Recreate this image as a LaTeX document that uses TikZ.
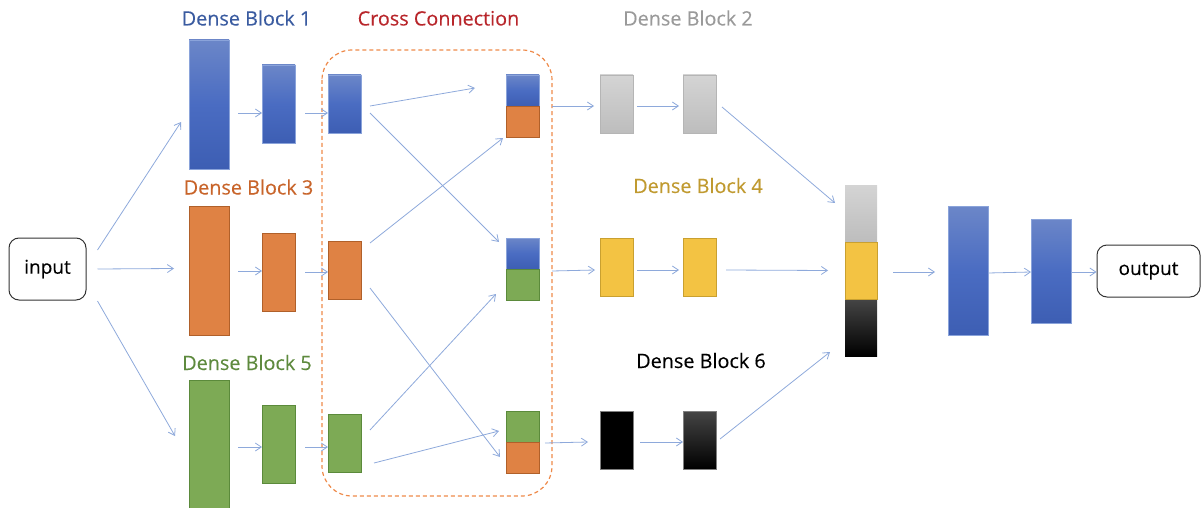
\documentclass[tikz,border=0pt]{standalone}
\usepackage{fontspec}
\setmainfont{Open Sans}
\newfontfamily\tfont{Open Sans}[FakeBold=0.25]
\usetikzlibrary{arrows.meta,calc}
\definecolor{bluetop}{HTML}{6B86C8}
\definecolor{bluemid}{HTML}{4A6CC2}
\definecolor{bluebot}{HTML}{3D5EB3}
\definecolor{blueedge}{HTML}{8AA3DA}
\definecolor{orangef}{HTML}{DF8244}
\definecolor{orangee}{HTML}{B0602A}
\definecolor{greenf}{HTML}{7DAA55}
\definecolor{greene}{HTML}{5B8A3B}
\definecolor{graytop}{HTML}{D4D4D4}
\definecolor{graybot}{HTML}{BDBDBD}
\definecolor{graye}{HTML}{B5B5B5}
\definecolor{yellowf}{HTML}{F3C343}
\definecolor{yellowe}{HTML}{C9A030}
\definecolor{blacktop}{HTML}{454545}
\definecolor{blacke}{HTML}{808080}
\definecolor{arrowc}{HTML}{8EA9DB}
\definecolor{dashc}{HTML}{EE8A4A}
\definecolor{tblue}{HTML}{3A5BA0}
\definecolor{tred}{HTML}{B8262B}
\definecolor{tgray}{HTML}{9A9A9A}
\definecolor{torange}{HTML}{C8642A}
\definecolor{tgold}{HTML}{C09A30}
\definecolor{tgreen}{HTML}{5E8A3E}
\begin{document}
\begin{tikzpicture}[x=1pt,y=-1pt,
  bar/.style={rectangle, inner sep=0pt, outer sep=0pt, line width=0.7pt},
  bluebar/.style={bar, draw=blueedge, top color=bluetop, bottom color=bluebot, middle color=bluemid},
  orangebar/.style={bar, draw=orangee, fill=orangef},
  greenbar/.style={bar, draw=greene, fill=greenf},
  graybar/.style={bar, draw=graye, top color=graytop, bottom color=graybot},
  yellowbar/.style={bar, draw=yellowe, fill=yellowf},
  blackbar/.style={bar, draw=blacke, fill=black},
  blackgrad/.style={bar, draw=blacke, top color=blacktop, middle color=black, bottom color=black},
  big/.style={minimum width=40pt, minimum height=129pt},
  mid/.style={minimum width=33pt, minimum height=78pt},
  small/.style={minimum width=33pt, minimum height=58pt},
  half/.style={minimum width=33pt, minimum height=31pt},
  third/.style={minimum width=32pt, minimum height=57pt},
  io/.style={rectangle, rounded corners=10pt, draw=black!80, line width=1pt, inner sep=0pt, font=\tfont\fontsize{19}{20}\selectfont},
  title/.style={anchor=base, inner sep=0pt, font=\tfont\fontsize{19.8}{21}\selectfont},
  arr/.style={draw=arrowc, line width=0.8pt, -{Straight Barb[length=6pt,width=8pt,line width=0.8pt]}}
]
\useasboundingbox (0,0) rectangle (1202,508);

% cross connection frame
\draw[dashc, line width=1.2pt, dash pattern=on 4pt off 3pt, rounded corners=30pt] (322,50) rectangle (552,496);

% titles
\node[title, text=tblue] (t1) at (246.5,25.5) {Dense Block 1};
\node[title, text=tred] (tc) at (438.5,25.5) {Cross Connection};
\node[title, text=tgray] (t2) at (688,25.5) {Dense Block 2};
\node[title, text=torange] (t3) at (248.5,194.5) {Dense Block 3};
\node[title, text=tgold] (t4) at (698,193) {Dense Block 4};
\node[title, text=tgreen] (t5) at (247,370) {Dense Block 5};
\node[title, text=black] (t6) at (701,368) {Dense Block 6};

% input / output
\node[io, minimum width=77pt, minimum height=62pt] (input) at (47.5,269) {input};
\node[io, minimum width=103pt, minimum height=52pt] (output) at (1148.5,271) {output};

% first columns
\node[bluebar, big] (bb1) at (209,104.5) {};
\node[bluebar, mid] (bb2) at (278.5,104) {};
\node[bluebar, small] (bb3) at (344.5,104) {};
\node[orangebar, big] (ob1) at (209,270.5) {};
\node[orangebar, mid] (ob2) at (278.5,272) {};
\node[orangebar, small] (ob3) at (344.5,270.5) {};
\node[greenbar, big] (gb1) at (209,444.5) {};
\node[greenbar, mid] (gb2) at (278.5,444) {};
\node[greenbar, small] (gb3) at (344.5,443.5) {};

% stacks after cross connection
\node[bluebar, half] (s1a) at (522.5,90.5) {};
\node[orangebar, half] (s1b) at (522.5,121.5) {};
\node[bluebar, half] (s2a) at (522.5,253.5) {};
\node[greenbar, half] (s2b) at (522.5,284.5) {};
\node[greenbar, half] (s3a) at (522.5,426.5) {};
\node[orangebar, half] (s3b) at (522.5,457.5) {};

% dense blocks 2, 4, 6
\node[graybar, small] (g1) at (616.5,104) {};
\node[graybar, small] (g2) at (699.5,104) {};
\node[yellowbar, small] (y1) at (616.5,267) {};
\node[yellowbar, small] (y2) at (699.5,267) {};
\node[blackbar, small] (k1) at (616.5,440) {};
\node[blackgrad, small] (k2) at (699.5,440) {};

% concatenation
\node[bar, third, top color=graytop, bottom color=graybot, draw=none] (c1) at (861,213.5) {};
\node[blackgrad, third, draw=none] (c3) at (861,327.5) {};
\node[yellowbar, third] (c2) at (861,270.5) {};

% final blocks
\node[bluebar, minimum width=40pt, minimum height=129pt] (fb1) at (968,271) {};
\node[bluebar, minimum width=40pt, minimum height=104pt] (fb2) at (1051,271) {};

% arrows from input
\draw[arr] ($(input.east)+(11,-19)$) -- ($(bb1.west)+(-8,17.5)$);
\draw[arr] ($(input.east)+(11,0)$) -- ($(ob1.west)+(-15,-2)$);
\draw[arr] ($(input.east)+(11,32)$) -- ($(gb1.west)+(-14,-8.5)$);

% row arrows
\draw[arr] ($(bb1.east)+(9,8.5)$) -- ($(bb2.west)+(0,9)$);
\draw[arr] ($(bb2.east)+(10,9)$) -- ($(bb3.west)+(0,9)$);
\draw[arr] ($(ob1.east)+(9,0.5)$) -- ($(ob2.west)+(0,-1)$);
\draw[arr] ($(ob2.east)+(10,0)$) -- ($(ob3.west)+(0,1.5)$);
\draw[arr] ($(gb1.east)+(9,2.5)$) -- ($(gb2.west)+(0,3)$);
\draw[arr] ($(gb2.east)+(10,3)$) -- ($(gb3.west)+(0,3.5)$);

% cross connections
\draw[arr] ($(bb3.east)+(9,2)$) -- ($(s1a.west)+(-31,-2.5)$);
\draw[arr] ($(bb3.east)+(9,9)$) -- ($(s2a.west)+(-7,-11.5)$);
\draw[arr] ($(ob3.east)+(9,-27.5)$) -- ($(s1b.south west)+(-3,1)$);
\draw[arr] ($(ob3.east)+(9,17.5)$) -- ($(s3b.west)+(-6,-0.5)$);
\draw[arr] ($(gb3.east)+(9,-13.5)$) -- ($(s2b.west)+(-10,9.5)$);
\draw[arr] ($(gb3.east)+(13,19.5)$) -- ($(s3a.west)+(-7,4.5)$);

% to dense blocks 2, 4, 6
\draw[arr] ($(s1b.north east)+(13,0)$) -- ($(g1.west)+(-6,2)$);
\draw[arr] ($(g1.east)+(4,2)$) -- ($(g2.west)+(-4,2)$);
\draw[arr] ($(g2.east)+(6,3)$) -- ($(c1.west)+(-10,-10.5)$);
\draw[arr] ($(s2b.north east)+(13,2)$) -- ($(y1.west)+(-5,3)$);
\draw[arr] ($(y1.east)+(4,3)$) -- ($(y2.west)+(-4,3)$);
\draw[arr] ($(y2.east)+(10,3)$) -- ($(c2.west)+(-17,0)$);
\draw[arr] ($(s3b.north east)+(6,1)$) -- ($(k1.west)+(-12,2)$);
\draw[arr] ($(k1.east)+(7,2)$) -- ($(k2.west)+(0,2)$);
\draw[arr] ($(k2.east)+(4,-1)$) -- ($(c3.west)+(-15,24.5)$);

% final
\draw[arr] ($(c2.east)+(16,1.5)$) -- ($(fb1.west)+(-13,1)$);
\draw[arr] ($(fb1.east)+(0,2)$) -- ($(fb2.west)+(0,1)$);
\draw[arr] ($(fb2.east)+(0,1)$) -- ($(output.west)+(0,1)$);
\end{tikzpicture}
\end{document}
